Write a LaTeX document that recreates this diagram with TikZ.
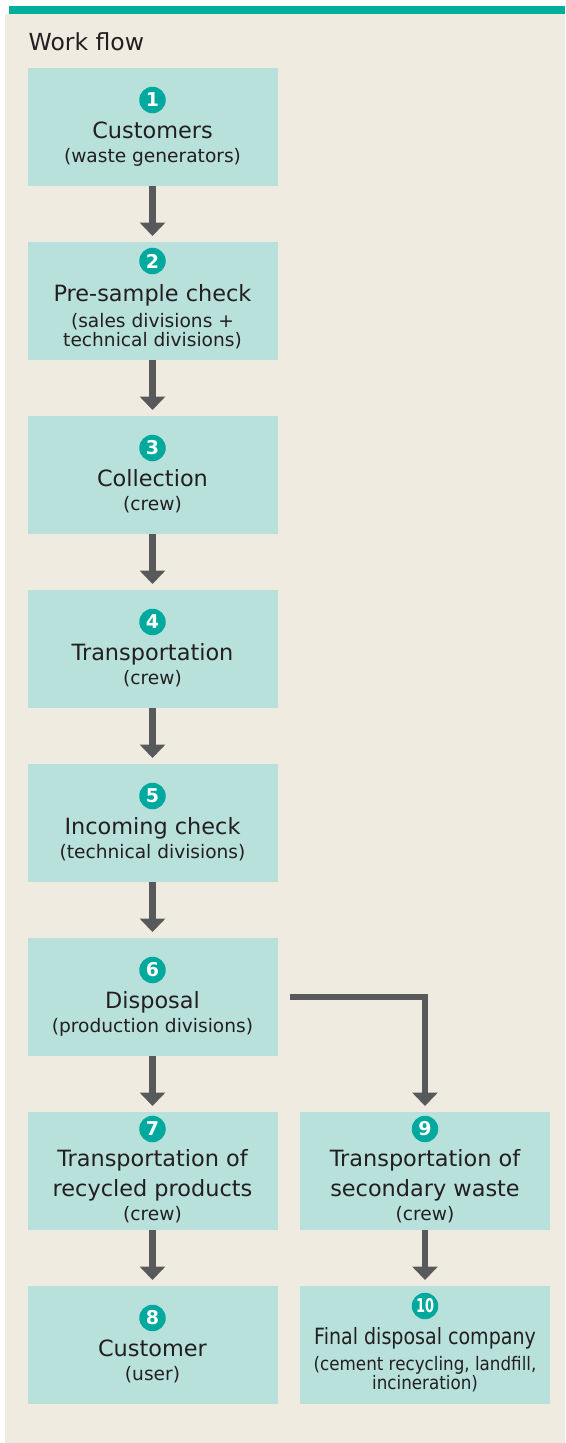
\documentclass[tikz,border=0pt]{standalone}
\usepackage{fontspec}
\setmainfont{DejaVu Sans}
\usepackage{graphicx}
\usetikzlibrary{arrows.meta}
\definecolor{bg}{RGB}{239,235,225}
\definecolor{topbar}{RGB}{0,174,157}
\definecolor{boxfill}{RGB}{184,225,220}
\definecolor{circ}{RGB}{0,169,157}
\definecolor{arrowgray}{RGB}{88,89,91}
\definecolor{ink}{RGB}{35,31,32}
\begin{document}
\begin{tikzpicture}[x=1pt,y=-1pt,
 stepbox/.style={draw=none, fill=boxfill, minimum width=250pt, minimum height=118pt, inner sep=0pt, outer sep=0pt},
 numdot/.style={circle, fill=circ, minimum size=26.5pt, inner sep=0pt, text=white, font=\fontsize{19}{19}\selectfont\bfseries},
 maintext/.style={anchor=base, inner sep=0pt, text=ink, font=\fontsize{22.4}{26}\selectfont},
 subtext/.style={anchor=base, inner sep=0pt, text=ink, font=\fontsize{18.6}{20}\selectfont},
 flow/.style={draw=arrowgray, line width=6.7pt, -{Triangle[width=25pt,length=13.5pt]}, line join=miter}]
\useasboundingbox (0,0) rectangle (565,1443);
\fill[white] (0,0) rectangle (565,1443);
\fill[bg] (5,14) rectangle (565,1443);
\fill[topbar] (9,6) rectangle (565,14);
\node[anchor=base west, inner sep=0pt, text=ink, font=\fontsize{23.5}{26}\selectfont] (title) at (28.5,50) {Work flow};
% boxes
\node[stepbox] (b1) at (152.5,127) {};
\node[stepbox] (b2) at (152.5,301) {};
\node[stepbox] (b3) at (152.5,475) {};
\node[stepbox] (b4) at (152.5,649) {};
\node[stepbox] (b5) at (152.5,823) {};
\node[stepbox] (b6) at (152.5,997) {};
\node[stepbox] (b7) at (152.5,1171) {};
\node[stepbox] (b8) at (152.5,1345) {};
\node[stepbox] (b9) at (425,1171) {};
\node[stepbox] (b10) at (425,1345) {};
% 1
\node[numdot] (n1) at (152.5,100) {1};
\node[maintext] (m1) at (152.5,138) {Customers};
\node[subtext] (s1) at (152.5,162.5) {(waste generators)};
% 2
\node[numdot] (n2) at (152.5,261) {2};
\node[maintext] (m2) at (152.5,301) {Pre-sample check};
\node[subtext] (s2a) at (152.5,327) {(sales divisions +};
\node[subtext] (s2b) at (152.5,346.5) {technical divisions)};
% 3
\node[numdot] (n3) at (152.5,448) {3};
\node[maintext] (m3) at (152.5,486) {Collection};
\node[subtext] (s3) at (152.5,510.5) {(crew)};
% 4
\node[numdot] (n4) at (152.5,622) {4};
\node[maintext] (m4) at (152.5,660) {Transportation};
\node[subtext] (s4) at (152.5,684.5) {(crew)};
% 5
\node[numdot] (n5) at (152.5,796) {5};
\node[maintext] (m5) at (152.5,834) {Incoming check};
\node[subtext] (s5) at (152.5,858.5) {(technical divisions)};
% 6
\node[numdot] (n6) at (152.5,970) {6};
\node[maintext] (m6) at (152.5,1008) {Disposal};
\node[subtext] (s6) at (152.5,1032.5) {(production divisions)};
% 7
\node[numdot] (n7) at (152.5,1129) {7};
\node[maintext] (m7a) at (152.5,1166.7) {Transportation of};
\node[maintext] (m7b) at (152.5,1196.7) {recycled products};
\node[subtext] (s7) at (152.5,1220.7) {(crew)};
% 8
\node[numdot] (n8) at (152.5,1318) {8};
\node[maintext] (m8) at (152.5,1356) {Customer};
\node[subtext] (s8) at (152.5,1380.5) {(user)};
% 9
\node[numdot] (n9) at (425,1129) {9};
\node[maintext] (m9a) at (425,1166.7) {Transportation of};
\node[maintext] (m9b) at (425,1196.7) {secondary waste};
\node[subtext] (s9) at (425,1220.7) {(crew)};
% 10
\node[numdot] (n10) at (425,1306) {\scalebox{0.68}[1]{10}};
\node[maintext] (m10) at (425,1344) {\scalebox{0.85}[1]{Final disposal company}};
\node[subtext] (s10a) at (425,1370) {\scalebox{0.9}[1]{(cement recycling, landfill,}};
\node[subtext] (s10b) at (425,1389) {\scalebox{0.9}[1]{incineration)}};
% connectors
\draw[flow] (b1.south) -- ([yshift=6pt]b2.north);
\draw[flow] (b2.south) -- ([yshift=6pt]b3.north);
\draw[flow] (b3.south) -- ([yshift=6pt]b4.north);
\draw[flow] (b4.south) -- ([yshift=6pt]b5.north);
\draw[flow] (b5.south) -- ([yshift=6pt]b6.north);
\draw[flow] (b6.south) -- ([yshift=6pt]b7.north);
\draw[flow] (b7.south) -- ([yshift=6pt]b8.north);
\draw[flow] (b9.south) -- ([yshift=6pt]b10.north);
\draw[flow] ([xshift=12pt]b6.east) -| ([yshift=6pt]b9.north);
\end{tikzpicture}
\end{document}
